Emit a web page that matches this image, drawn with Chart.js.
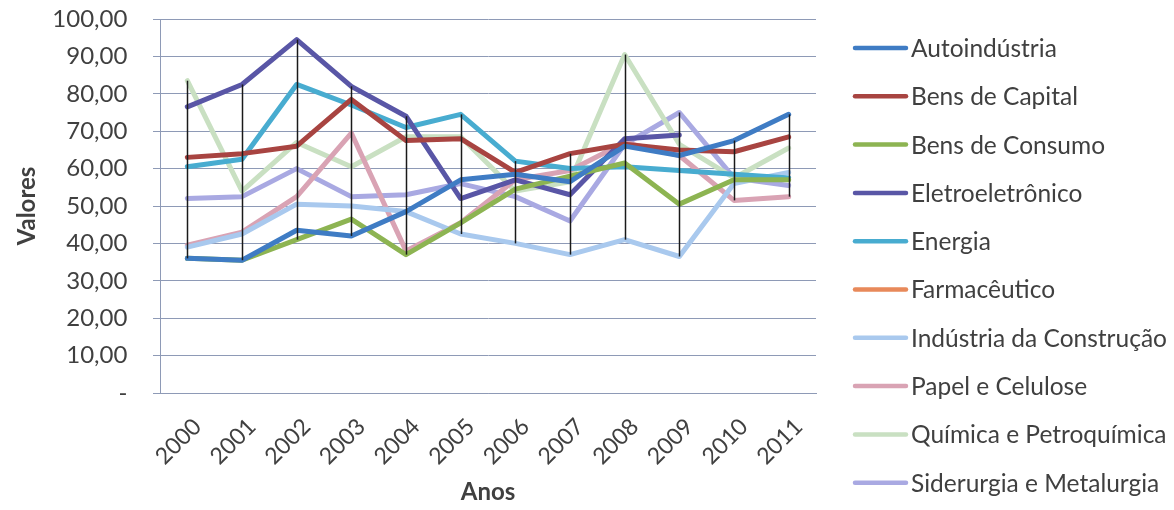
<!DOCTYPE html>
<html>
<head>
<meta charset="utf-8">
<script src="https://cdn.jsdelivr.net/npm/chart.js@4/dist/chart.umd.min.js"></script>
<style>
  html, body { margin: 0; padding: 0; background: #fff; }
  #wrap { width: 1174px; height: 510px; }
</style>
</head>
<body>
<div id="wrap"><canvas id="chart"></canvas></div>
<script>
/* --- dados --- */
const anos = ['2000','2001','2002','2003','2004','2005','2006','2007','2008','2009','2010','2011'];

const autoindustria = [36, 35.5, 43.5, 42, 48.5, 57, 58.5, 56.5, 66, 63.5, 67.5, 74.5];
const bensCapital   = [63, 64, 66, 78.5, 67.5, 68, 59, 64, 66.5, 65, 64.5, 68.5];
const bensConsumo   = [36, 35.5, 41, 46.5, 37, 45.5, 54.5, 58, 61.5, 50.5, 57, 57];
const eletro        = [76.5, 82.5, 94.5, 82, 74, 52, 57, 53, 68, 69, null, null];
const energia       = [60.5, 62.5, 82.5, 77, 71, 74.5, 62, 60, 60.5, 59.5, 58.5, 57.5];
const farmaceutico  = [null, null, null, null, null, null, null, null, null, null, null, null];
const construcao    = [39, 42.5, 50.5, 50, 48.5, 42.5, 40, 37, 41, 36.5, 56, 59];
const papel         = [39.5, 43, 52.5, 69.5, 38, 45.5, 57, 59.5, 67, 63.5, 51.5, 52.5];
const quimica       = [83.5, 54, 67, 60.5, 68.5, 68.5, 54, 56.5, 90.5, 66.5, 57.5, 65.5];
const siderurgia    = [52, 52.5, 60, 52.5, 53, 56, 52.5, 46, 66.5, 75, 57.5, 55.5];

const setores = ['Autoindústria','Bens de Capital','Bens de Consumo','Eletroeletrônico','Energia',
                 'Farmacêutico','Indústria da Construção','Papel e Celulose','Química e Petroquímica',
                 'Siderurgia e Metalurgia'];
const series  = [autoindustria, bensCapital, bensConsumo, eletro, energia,
                 farmaceutico, construcao, papel, quimica, siderurgia];
const cores   = ['#3f7cc4','#a84441','#8db452','#5956a6','#48acd0',
                 '#e8895a','#a9c9ee','#d9a3b4','#c9e0c2','#a9a9e2'];

const FONTE = 'Lato, "Open Sans", sans-serif';
const TXT = '#404040';

/* linhas máx-mín (pretas) em cada ano */
const linhasMaxMin = {
  id: 'linhasMaxMin',
  afterDatasetsDraw(chart) {
    const {ctx, scales:{x, y}} = chart;
    ctx.save();
    ctx.strokeStyle = '#1a1a1a';
    ctx.lineWidth = 1.5;
    anos.forEach((a, i) => {
      const vals = series.map(s => s[i]).filter(v => v != null);
      if (!vals.length) return;
      const px = Math.round(x.getPixelForValue(i)) + 0.5;
      ctx.beginPath();
      ctx.moveTo(px, y.getPixelForValue(Math.max(...vals)));
      ctx.lineTo(px, y.getPixelForValue(Math.min(...vals)));
      ctx.stroke();
    });
    ctx.restore();
  }
};

/* legenda à direita, estilo Excel */
const legendaDir = {
  id: 'legendaDir',
  afterDraw(chart) {
    const {ctx, chartArea} = chart;
    const x0 = chartArea.right + 37, y0 = 48, passo = 48.3;
    ctx.save();
    ctx.font = '24.5px ' + FONTE;
    ctx.textBaseline = 'middle';
    setores.forEach((nome, i) => {
      const yy = y0 + i * passo;
      ctx.strokeStyle = cores[i];
      ctx.lineWidth = 4.5;
      ctx.lineCap = 'round';
      ctx.beginPath();
      ctx.moveTo(x0 + 2, yy);
      ctx.lineTo(x0 + 53, yy);
      ctx.stroke();
      ctx.fillStyle = TXT;
      ctx.fillText(nome, x0 + 58, yy + 1);
    });
    ctx.restore();
  }
};

new Chart(document.getElementById('chart'), {
  type: 'line',
  data: {
    labels: anos,
    datasets: setores.map((nome, i) => ({
      label: nome,
      data: series[i],
      borderColor: cores[i],
      backgroundColor: cores[i],
      borderWidth: 5,
      pointRadius: 0,
      tension: 0,
      borderCapStyle: 'round',
      borderJoinStyle: 'round',
      spanGaps: false
    }))
  },
  plugins: [linhasMaxMin, legendaDir],
  options: {
    responsive: true,
    maintainAspectRatio: false,
    animation: false,
    layout: { padding: { top: 0, right: 358, bottom: 0, left: 0 } },
    plugins: {
      legend: { display: false },
      tooltip: { enabled: false }
    },
    scales: {
      x: {
        offset: true,
        grid: { display: false },
        border: { display: true, color: '#8e9ab6', width: 1 },
        ticks: { color: TXT, font: { family: FONTE, size: 23 }, minRotation: 45, maxRotation: 45, padding: 12, labelOffset: 10 },
        title: { display: true, text: 'Anos', color: TXT, font: { family: FONTE, size: 24, weight: 'bold' }, padding: { top: 4, bottom: 3 } },
        afterFit: s => { s.height = 117; }
      },
      y: {
        min: 0, max: 100,
        ticks: {
          stepSize: 10,
          color: TXT,
          font: { family: FONTE, size: 24 },
          padding: 4.6,
          callback: v => v === 0 ? '-' : v.toFixed(2).replace('.', ',')
        },
        grid: {
          color: '#8e9ab6', lineWidth: 1, drawTicks: true,
          tickLength: 28, tickColor: '#8e9ab6',
          tickBorderDash: [7, 21], tickBorderDashOffset: 7
        },
        border: { display: true, color: '#8e9ab6', width: 1 },
        title: { display: true, text: 'Valores', color: TXT, font: { family: FONTE, size: 24, weight: 'bold' }, padding: { top: 13, bottom: 10 } },
        afterFit: s => { s.width = 160; }
      }
    }
  }
});
</script>
</body>
</html>
